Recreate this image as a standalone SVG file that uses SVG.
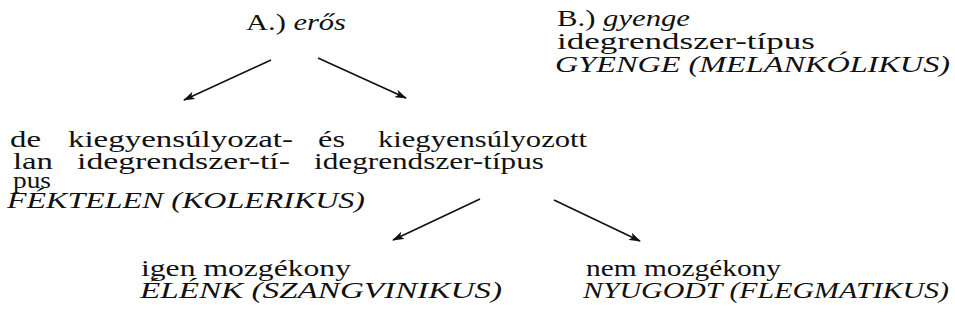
<svg xmlns="http://www.w3.org/2000/svg" width="955" height="322" viewBox="0 0 955 322">
  <style>
    text { font-family: "Liberation Serif", "Times New Roman", serif; font-size: 24px; fill: #111; }
    .it { font-style: italic; }
    .edge { stroke: #111; stroke-width: 1.6; fill: none; marker-end: url(#head); }
  </style>
  <defs>
    <marker id="head" viewBox="0 0 12 8" refX="11" refY="4" markerWidth="12" markerHeight="8" markerUnits="userSpaceOnUse" orient="auto">
      <path d="M0,0 L12,4 L0,8 L3,4 Z" fill="#111"/>
    </marker>
  </defs>
  <rect width="955" height="322" fill="#fff"/>

  <!-- every line is stretched to a fixed width -->
  <g id="strong">
    <text x="246" y="30" textLength="100" lengthAdjust="spacingAndGlyphs">A.) <tspan class="it">erős</tspan></text>
  </g>

  <g id="weak">
    <text x="557" y="26" textLength="133" lengthAdjust="spacingAndGlyphs">B.) <tspan class="it">gyenge</tspan></text>
    <text x="557" y="49" textLength="258" lengthAdjust="spacingAndGlyphs">idegrendszer-típus</text>
    <text x="555" y="72" class="it" textLength="395" lengthAdjust="spacingAndGlyphs">GYENGE (MELANKÓLIKUS)</text>
  </g>

  <g id="unbalanced">
    <text x="10" y="147" textLength="31" lengthAdjust="spacingAndGlyphs">de</text>
    <text x="68" y="147" textLength="225" lengthAdjust="spacingAndGlyphs">kiegyensúlyozat-</text>
    <text x="13" y="169" textLength="40" lengthAdjust="spacingAndGlyphs">lan</text>
    <text x="77" y="169" textLength="213" lengthAdjust="spacingAndGlyphs">idegrendszer-tí-</text>
    <text x="13" y="188" textLength="38" lengthAdjust="spacingAndGlyphs">pus</text>
    <text x="7" y="208" class="it" textLength="358" lengthAdjust="spacingAndGlyphs">FÉKTELEN (KOLERIKUS)</text>
  </g>

  <g id="balanced">
    <text x="318" y="147" textLength="27" lengthAdjust="spacingAndGlyphs">és</text>
    <text x="378" y="147" textLength="209" lengthAdjust="spacingAndGlyphs">kiegyensúlyozott</text>
    <text x="314" y="169" textLength="230" lengthAdjust="spacingAndGlyphs">idegrendszer-típus</text>
  </g>

  <g id="mobile">
    <text x="141" y="276" textLength="210" lengthAdjust="spacingAndGlyphs">igen mozgékony</text>
    <text x="140" y="298" class="it" textLength="362" lengthAdjust="spacingAndGlyphs">ÉLÉNK (SZANGVINIKUS)</text>
  </g>

  <g id="calm">
    <text x="586" y="276" textLength="195" lengthAdjust="spacingAndGlyphs">nem mozgékony</text>
    <text x="583" y="298" class="it" textLength="366" lengthAdjust="spacingAndGlyphs">NYUGODT (FLEGMATIKUS)</text>
  </g>

  <g id="connectors">
    <line class="edge" x1="271" y1="60" x2="184" y2="100"/>
    <line class="edge" x1="318" y1="58" x2="406" y2="98"/>
    <line class="edge" x1="480" y1="199" x2="393" y2="240"/>
    <line class="edge" x1="554" y1="200" x2="640" y2="241"/>
  </g>
</svg>
